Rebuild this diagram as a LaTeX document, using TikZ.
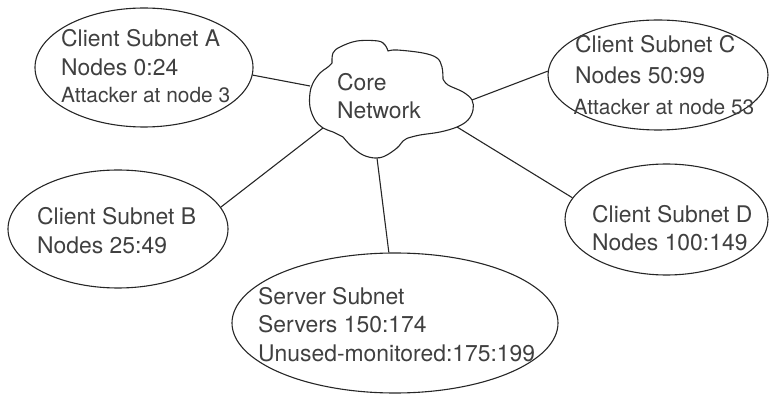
\documentclass[tikz,border=0pt]{standalone}
\usepackage{fontspec}
\setmainfont{TeX Gyre Heros}
\usetikzlibrary{shapes.geometric}
\begin{document}
\begin{tikzpicture}[x=1pt,y=-1pt,
  subnet/.style={draw=black!85, line width=1.1pt, ellipse, inner sep=0pt},
  txt/.style={anchor=base west, inner sep=0pt, text=black!75,
              font=\fontsize{22.9}{27}\selectfont},
  smalltxt/.style={txt, font=\fontsize{20.9}{25}\selectfont},
  link/.style={draw=black!85, line width=1.1pt, line join=round}]
\path[use as bounding box] (0,0) rectangle (771,398);

% subnets
\node[subnet, minimum width=218pt, minimum height=119pt] (A) at (144,67.5) {};
\node[subnet, minimum width=220pt, minimum height=110pt] (C) at (658,75) {};
\node[subnet, minimum width=220pt, minimum height=118pt] (B) at (118,229) {};
\node[subnet, minimum width=203pt, minimum height=111pt] (D) at (666.5,219.5) {};
\node[subnet, minimum width=326pt, minimum height=140pt] (S) at (395,323) {};

% core network cloud
\draw[link]
  plot[smooth, tension=0.6] coordinates {(332,63) (333,53) (340,47) (357,41) (378,41) (385,45) (388,51)}
  -- plot[smooth, tension=0.6] coordinates {(388,51) (397,50) (423,53) (437,58) (442,67) (443,79)}
  -- plot[smooth, tension=0.6] coordinates {(443,79) (448,85) (463,92) (472,100) (473,110) (468,120) (457,127) (440,132) (420,135) (408,138)}
  -- plot[smooth, tension=0.6] coordinates {(408,138) (403,141) (397,148) (385,156) (375,158) (363,155) (352,147) (343,137)}
  -- plot[smooth, tension=0.6] coordinates {(343,137) (333,132) (323,128) (315,120) (310,107) (310,93) (313,83) (320,73) (328,67) (332,63)}
  -- cycle;
\coordinate (cA) at (310,86);
\coordinate (cB) at (323,128);
\coordinate (cS) at (377,158);
\coordinate (cD) at (457,127);
\coordinate (cC) at (472,100);

% links to the core
\draw[link] (A.-4) -- (cA);
\draw[link] (C.178) -- (cC);
\draw[link] (B.12) -- (cB);
\draw[link] (D.167) -- (cD);
\draw[link] (S.95.5) -- (cS);

% labels
\node[txt] (core1) at (337,91) {Core};
\node[txt] (core2) at (337,119) {Network};

\node[txt] (A1) at (61,47) {Client Subnet A};
\node[txt] (A2) at (61,76) {Nodes 0:24};
\node[smalltxt] (A3) at (61,103) {Attacker at node 3};

\node[txt] (C1) at (575,52.7) {Client Subnet C};
\node[txt] (C2) at (575,83.3) {Nodes 50:99};
\node[smalltxt] (C3) at (573.5,114.3) {Attacker at node 53};

\node[txt] (B1) at (37,225) {Client Subnet B};
\node[txt] (B2) at (37,253) {Nodes 25:49};

\node[txt] (D1) at (592,223) {Client Subnet D};
\node[txt] (D2) at (592,251) {Nodes 100:149};

\node[txt] (S1) at (258,304) {Server Subnet};
\node[txt] (S2) at (258,332) {Servers 150:174};
\node[txt] (S3) at (258,361) {Unused-monitored:175:199};
\end{tikzpicture}
\end{document}
